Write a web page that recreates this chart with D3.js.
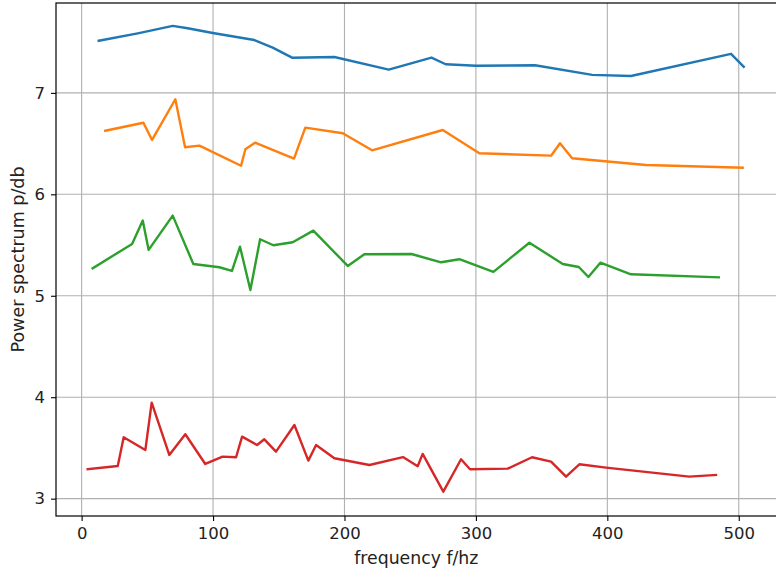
<!DOCTYPE html>
<html>
<head>
<meta charset="utf-8">
<script src="https://cdn.jsdelivr.net/npm/d3@7"></script>
<style>
  body { margin: 0; background: #fff; }
  text { font-family: "DejaVu Sans", sans-serif; }
</style>
</head>
<body>
<div id="chart"></div>
<script>
// data
var freqBlue  = [13.0, 42.7, 69.3, 80.7, 99.8, 131.4, 145.4, 160.1, 192.3, 233.7, 266.2, 277.0, 300.1, 345.0, 388.5, 418.0, 494.1, 503.8];
var powerBlue = [7.514, 7.587, 7.660, 7.637, 7.590, 7.521, 7.446, 7.347, 7.354, 7.229, 7.348, 7.282, 7.268, 7.272, 7.177, 7.166, 7.385, 7.257];

var freqOrange  = [18.0, 47.0, 53.6, 71.3, 78.7, 89.6, 121.3, 124.6, 131.9, 161.6, 170.2, 198.7, 221.0, 274.8, 302.6, 357.2, 364.0, 373.2, 429.5, 503.0];
var powerOrange = [6.627, 6.706, 6.536, 6.937, 6.464, 6.480, 6.282, 6.444, 6.509, 6.352, 6.657, 6.602, 6.434, 6.634, 6.405, 6.381, 6.503, 6.355, 6.289, 6.263];

var freqGreen  = [8.4, 38.4, 46.5, 51.0, 69.3, 85.0, 104.8, 114.4, 120.5, 128.4, 135.8, 145.9, 160.6, 176.3, 202.5, 215.1, 251.0, 273.5, 287.4, 313.3, 340.7, 366.1, 378.3, 385.6, 394.7, 418.0, 484.8];
var powerGreen = [5.271, 5.511, 5.741, 5.452, 5.790, 5.313, 5.281, 5.245, 5.484, 5.057, 5.557, 5.498, 5.527, 5.642, 5.294, 5.409, 5.412, 5.330, 5.360, 5.235, 5.523, 5.313, 5.284, 5.185, 5.326, 5.212, 5.182];

var freqRed  = [4.6, 27.5, 32.0, 48.5, 53.3, 66.7, 78.9, 94.1, 107.3, 117.5, 122.1, 133.5, 139.0, 147.9, 161.9, 172.5, 178.4, 192.3, 219.0, 244.5, 255.7, 259.5, 275.2, 288.7, 295.5, 324.2, 342.7, 357.2, 368.6, 378.7, 399.0, 462.4, 482.7];
var powerRed = [3.290, 3.322, 3.605, 3.480, 3.946, 3.431, 3.635, 3.342, 3.414, 3.408, 3.611, 3.529, 3.585, 3.463, 3.726, 3.375, 3.529, 3.398, 3.332, 3.410, 3.320, 3.441, 3.069, 3.388, 3.290, 3.296, 3.408, 3.365, 3.217, 3.339, 3.306, 3.217, 3.234];

var xTicks = [0, 100, 200, 300, 400, 500];
var yTicks = [3, 4, 5, 6, 7];

var seriesColors = ["#1f77b4", "#ff7f0e", "#2ca02c", "#d62728"];

var W = 776, H = 571;
// plot box (note: "top" is taken by window.top, so prefixed names)
var plotL = 56, plotR = 776.6, plotT = 3, plotB = 516;

var svg = d3.select("#chart").append("svg")
  .attr("width", W)
  .attr("height", H)
  .style("display", "block");

svg.append("rect").attr("width", W).attr("height", H).attr("fill", "#fff");

var x = d3.scaleLinear().domain([-19.5, 528.8]).range([plotL, plotR]);
var y = d3.scaleLinear().domain([2.829, 7.886]).range([plotB, plotT]);

// grid
svg.append("g").selectAll("line")
  .data(xTicks).enter().append("line")
    .attr("x1", function(d){ return x(d) }).attr("x2", function(d){ return x(d) })
    .attr("y1", plotT).attr("y2", plotB)
    .attr("stroke", "#b0b0b0").attr("stroke-width", 1.1);
svg.append("g").selectAll("line")
  .data(yTicks).enter().append("line")
    .attr("x1", plotL).attr("x2", plotR)
    .attr("y1", function(d){ return y(d) }).attr("y2", function(d){ return y(d) })
    .attr("stroke", "#b0b0b0").attr("stroke-width", 1.1);

// build series table from the arrays
var dataReady = [
  {name: "s1", freq: freqBlue,   power: powerBlue},
  {name: "s2", freq: freqOrange, power: powerOrange},
  {name: "s3", freq: freqGreen,  power: powerGreen},
  {name: "s4", freq: freqRed,    power: powerRed}
].map(function(s, i) {
  return {
    name: s.name,
    color: seriesColors[i],
    values: s.freq.map(function(f, j){ return {f: f, p: s.power[j]} })
  };
});

var line = d3.line()
  .x(function(d){ return x(d.f) })
  .y(function(d){ return y(d.p) });

svg.append("defs").append("clipPath").attr("id", "plotclip")
  .append("rect").attr("x", plotL).attr("y", plotT).attr("width", plotR - plotL).attr("height", plotB - plotT);

svg.append("g").attr("clip-path", "url(#plotclip)")
  .selectAll("path")
  .data(dataReady).enter().append("path")
    .attr("d", function(d){ return line(d.values) })
    .attr("stroke", function(d){ return d.color })
    .attr("stroke-width", 2.4)
    .attr("stroke-linejoin", "round")
    .attr("stroke-linecap", "square")
    .attr("fill", "none");

// axes
var xAxis = svg.append("g")
  .attr("transform", "translate(0," + plotB + ")")
  .call(d3.axisBottom(x).tickValues(xTicks).tickSize(5).tickPadding(6).tickFormat(d3.format("d")));
var yAxis = svg.append("g")
  .attr("transform", "translate(" + plotL + ",0)")
  .call(d3.axisLeft(y).tickValues(yTicks).tickSize(5).tickPadding(6).tickFormat(d3.format("d")));

[xAxis, yAxis].forEach(function(a) {
  a.select(".domain").remove();
  a.selectAll(".tick line").attr("stroke", "#000").attr("stroke-width", 1.1);
  a.selectAll(".tick text")
    .attr("fill", "#222")
    .style("font-family", "'DejaVu Sans', sans-serif")
    .style("font-size", "16.5px");
});

// frame
svg.append("rect")
  .attr("x", plotL).attr("y", plotT)
  .attr("width", plotR - plotL).attr("height", plotB - plotT)
  .attr("fill", "none").attr("stroke", "#000").attr("stroke-width", 1.2);

// labels
svg.append("text")
  .attr("x", (plotL + plotR) / 2).attr("y", 564)
  .attr("text-anchor", "middle")
  .attr("fill", "#222")
  .style("font-size", "17.3px")
  .text("frequency f/hz");

svg.append("text")
  .attr("transform", "translate(23.5," + ((plotT + plotB) / 2) + ") rotate(-90)")
  .attr("text-anchor", "middle")
  .attr("fill", "#222")
  .style("font-size", "17.5px")
  .text("Power spectrum p/db");
</script>
</body>
</html>
